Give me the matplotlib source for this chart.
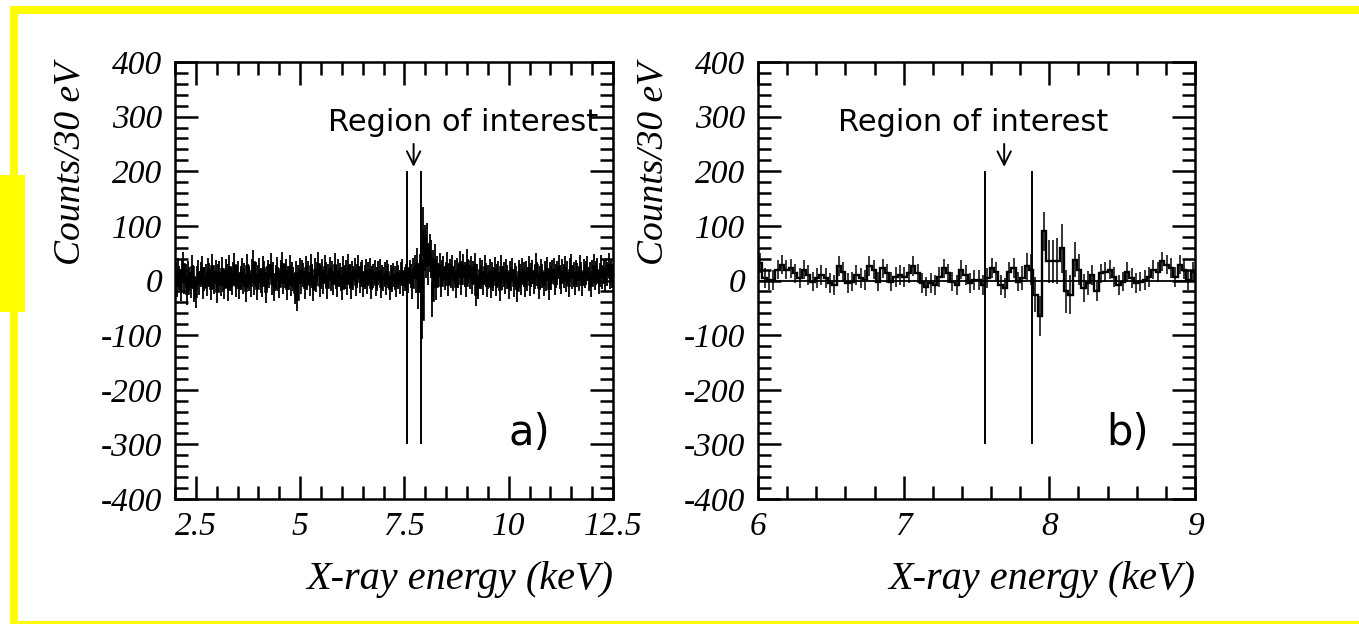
import numpy as np
import matplotlib
matplotlib.use('Agg')
import matplotlib.pyplot as plt
from matplotlib.patches import Rectangle
from matplotlib.ticker import MultipleLocator

BIN = 0.03  # 30 eV bins

# panel a) 2.0 - 12.5 keV, 350 bins, counts after subtraction
VALS_A = [
    12, -8, 20, 5, -15, 18, 30, -3, 9, -22, 14, 2, -10, 25, 7, -18, -28, 4, 16, -5, 11, 22, -12, 3, 8,
    -6, 19, 10, -14, 27, 6, -2, 15, -20, 9, 13, -7, 21, 1, -11, 17, 8, -16, 24, 3, -4, 12, 29, -9, 6,
    14, -12, 5, 20, -3, 10, -18, 26, 8, 2, -9, 17, 33, -5, 11, -14, 7, 19, 0, -8, 22, 13, -19, 4, 16,
    9, 28, -4, 12, -16, 6, 21, 3, -10, 15, 31, -2, 8, 18, -13, 5, 24, -7, 11, 2, -21, 14, -33, 7, 19,
    -3, 16, 10, -11, 23, 4, 13, -6, 27, 9, -15, 20, 1, 12, 30, -8, 6, 17, -2, 25, 11, -12, 8, 21, 3,
    14, -5, 29, 7, -9, 18, 10, 2, -14, 22, 6, 15, -4, 26, 9, -11, 13, 4, 19, -7, 8, 24, -1, 11, 16,
    -8, 6, 17, -3, 12, 20, -12, 5, 9, 15, -6, 2, 13, 18, -10, 7, 3, 11, -4, 16, 9, -14, 6, 1, 10,
    4, -9, 14, 7, -2, 12, 18, -6, 3, 9, 22, -1, 15, 8, -12, 20, 25, 6, 30, -20, 14, 35, -70, 90, 60,
    45, 65, 30, 50, 40, -35, 25, 38, -10, 20, 10, 28, -8, 15, 22, 5, 12, 30, -6, 18, 9, 24, 3, 16, -10,
    20, 8, 32, -4, 14, 26, 11, -9, 35, 17, 6, 22, -3, 13, 28, -25, 9, -12, 19, 7, 15, -5, 24, 10, -8,
    6, 17, -10, 12, 3, 21, -6, 9, 14, -15, 25, 4, 11, -3, 18, 7, -12, 13, 2, 20, -8, 10, 5, -18, 15,
    8, -4, 19, 11, -9, 14, 2, 23, -6, 10, 16, -2, 7, 28, 12, -11, 5, 18, 9, -7, 13, 3, 21, -14, 11,
    4, 15, 20, -5, 9, 13, 25, 6, -3, 17, 8, 22, 1, 14, -9, 19, 26, 7, 11, -4, 16, 10, 3, 24, 12,
    -6, 18, 9, 14, 22, 2, 11, -8, 16, 27, 5, 13, 20, -2, 10, 24, 7, 15, 1, 19, 12, 28, 6, 17, 9,
]
ERR_A_BASE = 22
PEAK_A_START = 192
PEAK_A_ERR = [28, 30, 32, 35, 40, 38, 45, 42, 40, 40, 38, 35, 35, 32, 30, 28, 26, 24]

# panel b) 6.0 - 9.0 keV, 100 bins
VALS_B = [
    32, 4, 1, 1, 20, 29, 20, 22, 13, 4, 20, 10, -2, 4, 10, 4, -5, -8, 26, 16, -5, -2, 10, 4, 1,
    26, 20, -2, 22, 13, -2, 7, 10, 7, 13, 26, 13, -5, -11, -5, -8, 7, 22, 13, -2, -8, 20, 10, -5, 1,
    1, -8, 4, 23, 16, -8, -14, 16, 23, -2, 4, 26, 20, -26, -65, 90, 35, 35, 35, 59, -20, -26, 38, 20, -14,
    -5, 10, -20, 13, 16, 20, 7, -8, -2, 16, 4, -5, -2, 1, 7, 20, 16, 35, 29, 23, 7, 29, 20, 1, 16,
]
ERR_B_BASE = 18
PEAK_B_START = 60
PEAK_B_ERR = [22, 25, 28, 32, 36, 36, 40, 40, 42, 45, 40, 36, 32, 28, 25, 22]

ROI_A = [7.55, 7.9]
ROI_B = [7.56, 7.88]

plt.rcParams['font.family'] = 'Liberation Serif'
plt.rcParams['font.style'] = 'italic'
plt.rcParams['axes.unicode_minus'] = False

W, H = 1359, 624
fig = plt.figure(figsize=(W / 100, H / 100), dpi=100)
fig.patch.set_facecolor('white')


def px_rect(x0, y0, x1, y1):
    # pixel box (top-left origin) -> figure rectangle
    return Rectangle((x0 / W, 1 - y1 / H), (x1 - x0) / W, (y1 - y0) / H,
                     transform=fig.transFigure, facecolor='#ffff00', edgecolor='none')


def style_axes(ax, xlim, xmajor, xminor, xticklabels):
    ax.set_xlim(*xlim)
    ax.set_ylim(-400, 400)
    ax.set_xticks(xmajor)
    ax.set_xticklabels(xticklabels)
    ax.xaxis.set_minor_locator(MultipleLocator(xminor))
    ax.set_yticks(range(-400, 401, 100))
    ax.yaxis.set_minor_locator(MultipleLocator(20))
    ax.tick_params(which='both', direction='in', top=True, right=True, width=1.8, labelsize=24)
    ax.tick_params(which='major', length=16.5, pad=9)
    ax.tick_params(which='minor', length=9.5)
    ax.tick_params(axis='x', pad=9)
    for s in ax.spines.values():
        s.set_linewidth(1.8)
    ax.set_xlabel('X-ray energy (keV)', fontsize=29, loc='right', labelpad=14)
    ax.set_ylabel('Counts/30 eV', fontsize=27, loc='top', labelpad=10)


def draw_hist(ax, x0, vals, err_base, peak_start, peak_err, lw):
    vals = np.array(vals, dtype=float)
    err = np.full(len(vals), float(err_base))
    err[peak_start:peak_start + len(peak_err)] = peak_err
    edges = x0 + BIN * np.arange(len(vals) + 1)
    centers = 0.5 * (edges[:-1] + edges[1:])
    ax.errorbar(centers, vals, yerr=err, fmt='none', ecolor='k', elinewidth=lw)
    ax.stairs(vals, edges, color='k', lw=lw + 0.6)


def draw_roi(ax, lines, arrow_x, text_x):
    ax.vlines(lines, -300, 200, color='k', lw=1.4)
    ax.annotate('', xy=(arrow_x, 203), xytext=(arrow_x, 255),
                arrowprops=dict(arrowstyle='->', lw=1.4, color='k', mutation_scale=24))
    ax.text(text_x, 290, 'Region of interest', fontsize=22, family='DejaVu Sans',
            style='normal', ha='center', va='center')


ax1 = fig.add_axes([175 / W, 1 - 499 / H, 438 / W, 437 / H])
draw_hist(ax1, 2.0, VALS_A, ERR_A_BASE, PEAK_A_START, PEAK_A_ERR, 1.3)
draw_roi(ax1, ROI_A, 7.72, 8.9)
ax1.text(10.5, -280, 'a)', fontsize=30, family='DejaVu Sans', style='normal', ha='center', va='center')
style_axes(ax1, (2.0, 12.5), [2.5, 5, 7.5, 10, 12.5], 0.5, ['2.5', '5', '7.5', '10', '12.5'])

ax2 = fig.add_axes([758 / W, 1 - 499 / H, 437 / W, 437 / H])
ax2.axhline(0, color='k', lw=1.3)
draw_hist(ax2, 6.0, VALS_B, ERR_B_BASE, PEAK_B_START, PEAK_B_ERR, 1.1)
draw_roi(ax2, ROI_B, 7.69, 7.48)
ax2.text(8.54, -280, 'b)', fontsize=30, family='DejaVu Sans', style='normal', ha='center', va='center')
style_axes(ax2, (6, 9), [6, 7, 8, 9], 0.2, ['6', '7', '8', '9'])

# yellow frame
fig.add_artist(px_rect(10, 6, 18, 624))
fig.add_artist(px_rect(10, 6, 1359, 14))
fig.add_artist(px_rect(10, 621, 1359, 624))
fig.add_artist(px_rect(0, 175, 25, 312))

fig.savefig('out.png', dpi=100)
